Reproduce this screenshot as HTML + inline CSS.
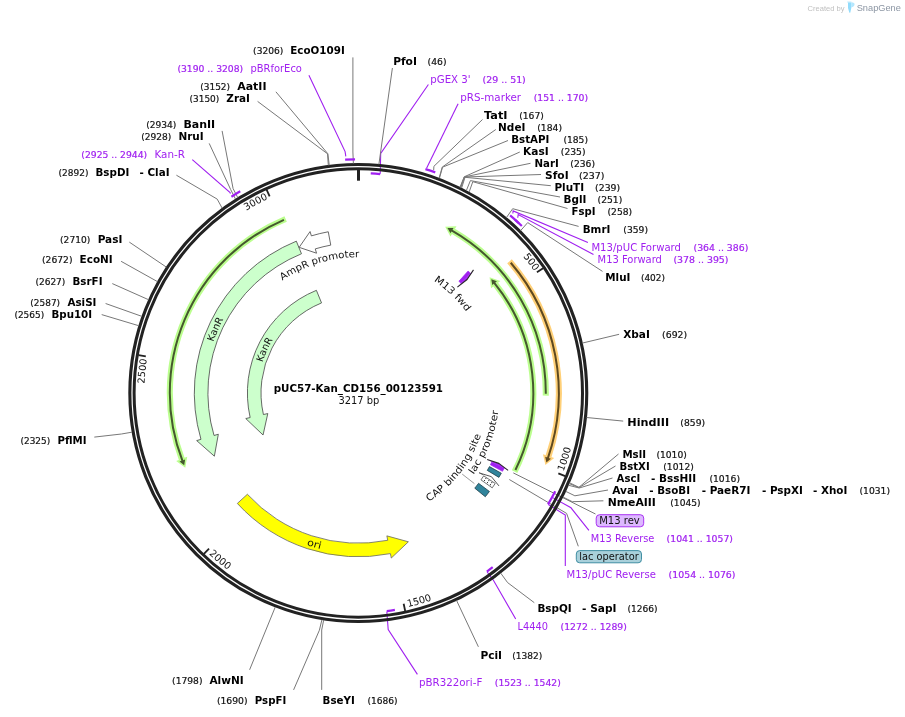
<!DOCTYPE html>
<html lang="en">
<head>
<meta charset="utf-8">
<title>pUC57-Kan_CD156_00123591 plasmid map</title>
<style>
html,body{margin:0;padding:0;background:#ffffff;}
body{width:905px;height:717px;overflow:hidden;}
svg{display:block;}
text{font-family:'DejaVu Sans', Verdana, 'Liberation Sans', sans-serif;white-space:pre;}
.b{font-weight:bold;fill:#000000;}
.r{font-weight:normal;fill:#111111;}
.p{font-weight:normal;fill:#a020f0;}
.ft{font-weight:normal;fill:#111111;}
.d{font-weight:normal;}
.n{stroke:#111111;stroke-width:0.2px;}
.q{stroke:#a020f0;stroke-width:0.2px;}
.cr{font-family:'Liberation Sans',Arial,Helvetica,sans-serif;}
.i{font-family:'DejaVu Sans Mono','Liberation Mono',monospace;}
</style>
</head>
<body>
<svg width="905" height="717" viewBox="0 0 905 717">
<rect width="905" height="717" fill="#ffffff"/>
<defs>
<path id="tp1" d="M491.02,225.13A214,214 0 0 1 534.26,271.21"/>
<path id="tp2" d="M563.55,471.65A219.8,219.8 0 0 0 577.89,402.6"/>
<path id="tp3" d="M408.04,607.1A219.8,219.8 0 0 0 473.29,580.32"/>
<path id="tp4" d="M208.75,554.08A219.8,219.8 0 0 0 267.47,593.16"/>
<path id="tp5" d="M147.25,428.39A214,214 0 0 1 147.01,359.08"/>
<path id="tp6" d="M210.81,237.94A214,214 0 0 1 268.11,198.93"/>
<path id="tp7" d="M208.75,357.54A153.7,153.7 0 0 1 231.87,305.59"/>
<path id="tp8" d="M259.78,372.63A100.6,100.6 0 0 1 278.94,331.18"/>
<path id="tp9" d="M291.05,538.62A160.4,160.4 0 0 0 337.06,551.99"/>
<path id="tp10" d="M271.02,288.96A135.8,135.8 0 0 1 373.42,258.04"/>
<path id="tp11" d="M421.7,273.59A135.2,135.2 0 0 1 474.23,323.44"/>
<path id="tp12" d="M464.38,486.19A141.2,141.2 0 0 0 499.46,396.21"/>
<path id="tp13" d="M417.12,508.48A129.6,129.6 0 0 0 484.58,422.13"/>
</defs>
<polyline points="428.4,84.5 380.7,153.4 380.21,173.79" fill="none" stroke="#a020f0" stroke-width="1.1"/>
<polyline points="588.9,530.3 571,507.8 552.3,497.39" fill="none" stroke="#a020f0" stroke-width="1.1"/>
<polyline points="565.3,566 565.3,515 548.29,504.51" fill="none" stroke="#a020f0" stroke-width="1.1"/>
<polyline points="515.7,619 493.4,580.2 487.02,571.78" fill="none" stroke="#a020f0" stroke-width="1.1"/>
<polyline points="417.4,674.4 388.2,629.6 386.83,611.44" fill="none" stroke="#a020f0" stroke-width="1.1"/>
<polyline points="513.3,472.9 595.5,514" fill="none" stroke="#787878" stroke-width="1"/>
<polyline points="509.3,479.5 566.6,513.4 578.3,546.3" fill="none" stroke="#787878" stroke-width="1"/>
<circle cx="358.3" cy="393" r="228.45" fill="none" stroke="#222222" stroke-width="3.1"/>
<circle cx="358.3" cy="393" r="224.2" fill="none" stroke="#222222" stroke-width="3"/>
<path d="M545.78,395.62A187.5,187.5 0 0 0 453.04,231.2" fill="none" stroke="#bbfe8e" stroke-width="6.1"/>
<polygon points="456.47,226.37 445.17,226.84 450.48,236.53" fill="#bbfe8e"/>
<path d="M545.8,393.72A187.5,187.5 0 0 0 451.57,230.34" fill="none" stroke="#45582e" stroke-width="2.0"/>
<polygon points="453.5,227.99 447.46,228.06 450.5,233.19" fill="#45582e"/>
<path d="M514.59,471.74A175,175 0 0 0 495.35,284.17" fill="none" stroke="#bbfe8e" stroke-width="6.1"/>
<polygon points="500.29,280.91 489.57,277.27 491.02,288.22" fill="#bbfe8e"/>
<path d="M515.43,470.04A175,175 0 0 0 494.28,282.85" fill="none" stroke="#45582e" stroke-width="2.0"/>
<polygon points="496.93,281.35 491.27,279.23 492.26,285.12" fill="#45582e"/>
<path d="M509.5,261.33A200.5,200.5 0 0 1 548.45,456.58" fill="none" stroke="#ffd078" stroke-width="6.1"/>
<polygon points="554.21,457.96 545.41,465.05 543.01,454.25" fill="#ffd078"/>
<path d="M510.75,262.77A200.5,200.5 0 0 1 547.91,458.19" fill="none" stroke="#5e4920" stroke-width="2.0"/>
<polygon points="550.91,458.69 546.33,462.62 545.23,456.75" fill="#5e4920"/>
<path d="M285.65,219.06A188.5,188.5 0 0 0 181.87,459.37" fill="none" stroke="#bbfe8e" stroke-width="6.1"/>
<polygon points="176.17,460.96 185.24,467.71 187.22,456.84" fill="#bbfe8e"/>
<path d="M283.9,219.8A188.5,188.5 0 0 0 182.48,460.95" fill="none" stroke="#45582e" stroke-width="2.0"/>
<polygon points="179.49,461.56 184.22,465.32 185.1,459.41" fill="#45582e"/>
<path d="M301.47,253.75L296.33,241.16A164,164 0 0 0 200.98,439.33L196.66,440.6L214.36,456.19L218.34,434.22L214.03,435.49A150.4,150.4 0 0 1 301.47,253.75Z" fill="#ccffcc" stroke="#444444" stroke-width="0.8" stroke-linejoin="miter"/>
<path d="M321.54,302.91L316.4,290.32A110.9,110.9 0 0 0 250.15,417.55L245.76,418.55L263.05,435.01L267.8,413.55L263.42,414.54A97.3,97.3 0 0 1 321.54,302.91Z" fill="#ccffcc" stroke="#444444" stroke-width="0.8" stroke-linejoin="miter"/>
<path d="M330.76,245.14L328.27,231.77A164,164 0 0 0 311.36,235.86L310.07,231.55L299.16,247.35L316.54,253.2L315.25,248.89A150.4,150.4 0 0 1 330.76,245.14Z" fill="#ffffff" stroke="#444444" stroke-width="0.8" stroke-linejoin="miter"/>
<path d="M247.38,494.28L237.34,503.45A163.8,163.8 0 0 0 390.4,553.62L391.28,558.04L408.38,541.8L386.85,535.87L387.73,540.29A150.2,150.2 0 0 1 247.38,494.28Z" fill="#ffff00" stroke="#666666" stroke-width="0.8" stroke-linejoin="miter"/>
<polygon points="457.37,287.13 467.1,279.54 473.5,269.89" fill="#a020f0"/>
<polygon points="461,283.26 458.87,281.31 468.1,271.05 470.43,273.18" fill="#a020f0" stroke="#a020f0" stroke-width="0.7" stroke-linejoin="round"/>
<polyline points="457.37,287.13 467.1,279.54 473.5,269.89" fill="none" stroke="#2a2a2a" stroke-width="1.1" stroke-linejoin="round"/>
<polygon points="487.15,459.5 498.86,463.39 508.12,470.33" fill="#a020f0"/>
<polygon points="491.86,461.94 490.39,464.72 502.51,471.3 504.12,468.26" fill="#a020f0" stroke="#a020f0" stroke-width="0.7" stroke-linejoin="round"/>
<polyline points="487.15,459.5 498.86,463.39 508.12,470.33" fill="none" stroke="#2a2a2a" stroke-width="1.1" stroke-linejoin="round"/>
<polygon points="489.47,466.58 501.33,473.24 498.92,477.39 487.26,470.39" fill="#31849b" stroke="#16323c" stroke-width="0.7"/>
<polygon points="479.28,472.93 491.39,476.65 498.97,485.93" fill="#ffffff"/>
<polygon points="483.71,475.85 480.97,479.85 492.23,487.83 495.22,483.45" fill="#ffffff" stroke="#333333" stroke-width="0.7" stroke-linejoin="round"/>
<circle cx="484.51" cy="480.54" r="0.55" fill="#111"/>
<circle cx="485.85" cy="478.57" r="0.55" fill="#111"/>
<circle cx="487.47" cy="482.59" r="0.55" fill="#111"/>
<circle cx="488.84" cy="480.58" r="0.55" fill="#111"/>
<circle cx="490.43" cy="484.64" r="0.55" fill="#111"/>
<circle cx="491.83" cy="482.59" r="0.55" fill="#111"/>
<polyline points="479.28,472.93 491.39,476.65 498.97,485.93" fill="none" stroke="#2a2a2a" stroke-width="0.8" stroke-linejoin="round"/>
<polygon points="478.57,483.3 489.45,491.47 485.3,496.77 474.77,488.16" fill="#31849b" stroke="#16323c" stroke-width="0.7"/>
<line x1="543.07" y1="268.15" x2="536.94" y2="272.29" stroke="#222222" stroke-width="1.8"/>
<line x1="565.2" y1="476.2" x2="558.33" y2="473.44" stroke="#222222" stroke-width="1.8"/>
<line x1="405.2" y1="611.01" x2="403.65" y2="603.78" stroke="#222222" stroke-width="1.8"/>
<line x1="203.92" y1="553.92" x2="209.04" y2="548.58" stroke="#222222" stroke-width="1.8"/>
<line x1="138.53" y1="355.18" x2="145.82" y2="356.44" stroke="#222222" stroke-width="1.8"/>
<line x1="266.59" y1="189.73" x2="269.63" y2="196.48" stroke="#222222" stroke-width="1.8"/>
<line x1="358.49" y1="170" x2="358.49" y2="180.7" stroke="#222222" stroke-width="3"/>
<text class="ft" font-size="9.75" text-anchor="end"><textPath href="#tp1" startOffset="100%" textLength="18.6" lengthAdjust="spacingAndGlyphs">500</textPath></text>
<text class="ft" font-size="9.75" text-anchor="start"><textPath href="#tp2" startOffset="0%" textLength="24.8" lengthAdjust="spacingAndGlyphs">1000</textPath></text>
<text class="ft" font-size="9.75" text-anchor="start"><textPath href="#tp3" startOffset="0%" textLength="24.8" lengthAdjust="spacingAndGlyphs">1500</textPath></text>
<text class="ft" font-size="9.75" text-anchor="start"><textPath href="#tp4" startOffset="0%" textLength="24.8" lengthAdjust="spacingAndGlyphs">2000</textPath></text>
<text class="ft" font-size="9.75" text-anchor="end"><textPath href="#tp5" startOffset="100%" textLength="24.8" lengthAdjust="spacingAndGlyphs">2500</textPath></text>
<text class="ft" font-size="9.75" text-anchor="end"><textPath href="#tp6" startOffset="100%" textLength="24.8" lengthAdjust="spacingAndGlyphs">3000</textPath></text>
<text class="ft" font-size="9.75" text-anchor="middle"><textPath href="#tp7" startOffset="50%" textLength="25" lengthAdjust="spacingAndGlyphs">KanR</textPath></text>
<text class="ft" font-size="9.75" text-anchor="middle"><textPath href="#tp8" startOffset="50%" textLength="25" lengthAdjust="spacingAndGlyphs">KanR</textPath></text>
<text class="ft" font-size="9.75" text-anchor="middle"><textPath href="#tp9" startOffset="50%" textLength="14.5" lengthAdjust="spacingAndGlyphs">ori</textPath></text>
<text class="ft" font-size="9.75" text-anchor="middle"><textPath href="#tp10" startOffset="50%" textLength="81.5" lengthAdjust="spacingAndGlyphs">AmpR promoter</textPath></text>
<text class="ft" font-size="9.75" text-anchor="middle"><textPath href="#tp11" startOffset="50%" textLength="45" lengthAdjust="spacingAndGlyphs">M13 fwd</textPath></text>
<text class="ft" font-size="9.75" text-anchor="middle"><textPath href="#tp12" startOffset="50%" textLength="69" lengthAdjust="spacingAndGlyphs">lac promoter</textPath></text>
<text class="ft" font-size="9.75" text-anchor="middle"><textPath href="#tp13" startOffset="50%" textLength="86" lengthAdjust="spacingAndGlyphs">CAP binding site</textPath></text>
<polyline points="479,472.6 483.2,474.9" fill="none" stroke="#555555" stroke-width="0.8"/>
<polyline points="462.2,474.1 474.4,483.6" fill="none" stroke="#808080" stroke-width="0.8"/>
<text class="b" font-size="11" x="273.7" y="392.2" textLength="169.3" lengthAdjust="spacingAndGlyphs">pUC57-Kan_CD156_00123591</text>
<text class="r" font-size="9.75" x="338.5" y="403.6" textLength="40.8" lengthAdjust="spacingAndGlyphs">3217 bp</text>
<text class="r n" font-size="9" x="253.1" y="53.9" textLength="30.3" lengthAdjust="spacingAndGlyphs">(3206)</text>
<text class="b" font-size="10.05" x="290.3" y="53.9" textLength="54.5" lengthAdjust="spacingAndGlyphs">EcoO109I</text>
<polyline points="352.9,57.4 352.9,152 353.37,163.45" fill="none" stroke="#787878" stroke-width="1"/>
<text class="p q" font-size="9" x="177.4" y="71.8" textLength="65.8" lengthAdjust="spacingAndGlyphs">(3190 .. 3208)</text>
<text class="p" font-size="10.05" x="250.5" y="71.8" textLength="51.4" lengthAdjust="spacingAndGlyphs">pBRforEco</text>
<polyline points="308.9,75.3 345.1,151.6 345.81,156.43" fill="none" stroke="#a020f0" stroke-width="1.1"/>
<text class="r n" font-size="9" x="200.2" y="89.7" textLength="29.9" lengthAdjust="spacingAndGlyphs">(3152)</text>
<text class="b" font-size="10.05" x="237.2" y="89.7" textLength="29.3" lengthAdjust="spacingAndGlyphs">AatII</text>
<polyline points="275.9,91.8 327.9,153.8 329.23,165.25" fill="none" stroke="#787878" stroke-width="1"/>
<text class="r n" font-size="9" x="189.5" y="101.7" textLength="29.8" lengthAdjust="spacingAndGlyphs">(3150)</text>
<text class="b" font-size="10.05" x="226.3" y="101.7" textLength="23.7" lengthAdjust="spacingAndGlyphs">ZraI</text>
<polyline points="257.6,101.4 327.5,153.8 328.34,165.36" fill="none" stroke="#787878" stroke-width="1"/>
<text class="r n" font-size="9" x="146.2" y="127.9" textLength="30.2" lengthAdjust="spacingAndGlyphs">(2934)</text>
<text class="b" font-size="10.05" x="183.4" y="127.9" textLength="31.8" lengthAdjust="spacingAndGlyphs">BanII</text>
<polyline points="222.1,130.9 233.1,188.6 237.76,197.59" fill="none" stroke="#787878" stroke-width="1"/>
<text class="r n" font-size="9" x="141.2" y="139.8" textLength="30.2" lengthAdjust="spacingAndGlyphs">(2928)</text>
<text class="b" font-size="10.05" x="178.4" y="139.8" textLength="25.3" lengthAdjust="spacingAndGlyphs">NruI</text>
<polyline points="209.2,143.4 230.7,189.6 235.47,199.02" fill="none" stroke="#787878" stroke-width="1"/>
<text class="p q" font-size="9" x="81.3" y="157.7" textLength="65.9" lengthAdjust="spacingAndGlyphs">(2925 .. 2944)</text>
<text class="p" font-size="10.05" x="154.5" y="157.7" textLength="30.5" lengthAdjust="spacingAndGlyphs">Kan-R</text>
<polyline points="192.3,159.7 230.1,192.5 230.4,193.59" fill="none" stroke="#a020f0" stroke-width="1.1"/>
<text class="r n" font-size="9" x="58.6" y="175.6" textLength="29.9" lengthAdjust="spacingAndGlyphs">(2892)</text>
<text class="b" font-size="10.05" x="95.5" y="175.6" textLength="33.8" lengthAdjust="spacingAndGlyphs">BspDI</text>
<text class="b" font-size="10.05" x="139.6" y="175.6" textLength="29.9" lengthAdjust="spacingAndGlyphs">- ClaI</text>
<polyline points="176.4,175.2 217.2,199.1 222.15,208.12" fill="none" stroke="#787878" stroke-width="1"/>
<text class="r n" font-size="9" x="60.1" y="242.8" textLength="30.1" lengthAdjust="spacingAndGlyphs">(2710)</text>
<text class="b" font-size="10.05" x="97.7" y="242.8" textLength="24.7" lengthAdjust="spacingAndGlyphs">PasI</text>
<polyline points="129.3,242.1 166.32,267.07" fill="none" stroke="#787878" stroke-width="1"/>
<text class="r n" font-size="9" x="42" y="263.1" textLength="30.5" lengthAdjust="spacingAndGlyphs">(2672)</text>
<text class="b" font-size="10.05" x="79.6" y="263.1" textLength="33.1" lengthAdjust="spacingAndGlyphs">EcoNI</text>
<polyline points="121.1,261.3 157.51,281.65" fill="none" stroke="#787878" stroke-width="1"/>
<text class="r n" font-size="9" x="35.4" y="284.8" textLength="30" lengthAdjust="spacingAndGlyphs">(2627)</text>
<text class="b" font-size="10.05" x="72.5" y="284.8" textLength="30" lengthAdjust="spacingAndGlyphs">BsrFI</text>
<polyline points="112.3,283.6 148.51,299.7" fill="none" stroke="#787878" stroke-width="1"/>
<text class="r n" font-size="9" x="30.3" y="305.7" textLength="29.8" lengthAdjust="spacingAndGlyphs">(2587)</text>
<text class="b" font-size="10.05" x="67.4" y="305.7" textLength="29.1" lengthAdjust="spacingAndGlyphs">AsiSI</text>
<polyline points="105.6,303.5 141.87,316.36" fill="none" stroke="#787878" stroke-width="1"/>
<text class="r n" font-size="9" x="14.4" y="317.9" textLength="29.8" lengthAdjust="spacingAndGlyphs">(2565)</text>
<text class="b" font-size="10.05" x="51.5" y="317.9" textLength="40.6" lengthAdjust="spacingAndGlyphs">Bpu10I</text>
<polyline points="101.7,314.6 138.78,325.73" fill="none" stroke="#787878" stroke-width="1"/>
<text class="r n" font-size="9" x="20.5" y="443.7" textLength="29.7" lengthAdjust="spacingAndGlyphs">(2325)</text>
<text class="b" font-size="10.05" x="57.5" y="443.7" textLength="29" lengthAdjust="spacingAndGlyphs">PflMI</text>
<polyline points="94.3,437.1 121.4,434 132.06,432.16" fill="none" stroke="#787878" stroke-width="1"/>
<text class="r n" font-size="9" x="172.1" y="683.9" textLength="30.4" lengthAdjust="spacingAndGlyphs">(1798)</text>
<text class="b" font-size="10.05" x="209.4" y="683.9" textLength="34.3" lengthAdjust="spacingAndGlyphs">AlwNI</text>
<polyline points="249.6,669.8 275.25,607.05" fill="none" stroke="#787878" stroke-width="1"/>
<text class="r n" font-size="9" x="216.9" y="704" textLength="30.7" lengthAdjust="spacingAndGlyphs">(1690)</text>
<text class="b" font-size="10.05" x="254.8" y="704" textLength="31.4" lengthAdjust="spacingAndGlyphs">PspFI</text>
<polyline points="293.6,689.9 319.4,630.2 321.91,619.7" fill="none" stroke="#787878" stroke-width="1"/>
<text class="b" font-size="10.05" x="322.6" y="704" textLength="32.3" lengthAdjust="spacingAndGlyphs">BseYI</text>
<text class="r n" font-size="9" x="367.4" y="704" textLength="30.2" lengthAdjust="spacingAndGlyphs">(1686)</text>
<polyline points="321.7,689.9 321.7,630 323.68,619.97" fill="none" stroke="#787878" stroke-width="1"/>
<text class="b" font-size="10.05" x="393.2" y="64.6" textLength="23.7" lengthAdjust="spacingAndGlyphs">PfoI</text>
<text class="r n" font-size="9" x="427.6" y="64.6" textLength="18.9" lengthAdjust="spacingAndGlyphs">(46)</text>
<polyline points="392.4,68 378.9,164.33" fill="none" stroke="#787878" stroke-width="1"/>
<text class="p" font-size="10.05" x="430.3" y="83.2" textLength="40.3" lengthAdjust="spacingAndGlyphs">pGEX 3'</text>
<text class="p q" font-size="9" x="482.5" y="83.2" textLength="43.3" lengthAdjust="spacingAndGlyphs">(29 .. 51)</text>
<text class="p" font-size="10.05" x="460.3" y="101" textLength="60.8" lengthAdjust="spacingAndGlyphs">pRS-marker</text>
<text class="p q" font-size="9" x="533.7" y="101" textLength="54.4" lengthAdjust="spacingAndGlyphs">(151 .. 170)</text>
<polyline points="458.1,103.8 426.58,168.24" fill="none" stroke="#a020f0" stroke-width="1.1"/>
<text class="b" font-size="10.05" x="484.1" y="119" textLength="23.5" lengthAdjust="spacingAndGlyphs">TatI</text>
<text class="r n" font-size="9" x="519.2" y="119" textLength="24.6" lengthAdjust="spacingAndGlyphs">(167)</text>
<polyline points="482.5,119.5 433.9,166.3 433.66,170.2" fill="none" stroke="#787878" stroke-width="1"/>
<text class="b" font-size="10.05" x="498.1" y="131" textLength="27.3" lengthAdjust="spacingAndGlyphs">NdeI</text>
<text class="r n" font-size="9" x="537.2" y="131" textLength="24.8" lengthAdjust="spacingAndGlyphs">(184)</text>
<polyline points="495.8,129.5 442.3,167 439.05,178.07" fill="none" stroke="#787878" stroke-width="1"/>
<text class="b" font-size="10.05" x="511.2" y="142.8" textLength="38.2" lengthAdjust="spacingAndGlyphs">BstAPI</text>
<text class="r n" font-size="9" x="563.4" y="142.8" textLength="24.6" lengthAdjust="spacingAndGlyphs">(185)</text>
<polyline points="508,140.5 442.5,167.2 439.47,178.23" fill="none" stroke="#787878" stroke-width="1"/>
<text class="b" font-size="10.05" x="523.1" y="154.8" textLength="25.6" lengthAdjust="spacingAndGlyphs">KasI</text>
<text class="r n" font-size="9" x="560.8" y="154.8" textLength="24.7" lengthAdjust="spacingAndGlyphs">(235)</text>
<polyline points="519.8,152 464.2,176.8 460.02,187.16" fill="none" stroke="#787878" stroke-width="1"/>
<text class="b" font-size="10.05" x="534.5" y="166.7" textLength="24.3" lengthAdjust="spacingAndGlyphs">NarI</text>
<text class="r n" font-size="9" x="570.3" y="166.7" textLength="24.7" lengthAdjust="spacingAndGlyphs">(236)</text>
<polyline points="530.5,163.3 464.4,176.9 460.42,187.36" fill="none" stroke="#787878" stroke-width="1"/>
<text class="b" font-size="10.05" x="545" y="178.7" textLength="23.6" lengthAdjust="spacingAndGlyphs">SfoI</text>
<text class="r n" font-size="9" x="579" y="178.7" textLength="25.4" lengthAdjust="spacingAndGlyphs">(237)</text>
<polyline points="541,174.5 464.6,177 460.82,187.56" fill="none" stroke="#787878" stroke-width="1"/>
<text class="b" font-size="10.05" x="554.4" y="190.7" textLength="29.7" lengthAdjust="spacingAndGlyphs">PluTI</text>
<text class="r n" font-size="9" x="595.1" y="190.7" textLength="25.1" lengthAdjust="spacingAndGlyphs">(239)</text>
<polyline points="550.8,185.7 465,177.3 461.63,187.96" fill="none" stroke="#787878" stroke-width="1"/>
<text class="b" font-size="10.05" x="563.6" y="202.8" textLength="22.9" lengthAdjust="spacingAndGlyphs">BglI</text>
<text class="r n" font-size="9" x="597.6" y="202.8" textLength="24.7" lengthAdjust="spacingAndGlyphs">(251)</text>
<polyline points="560,197 470.4,180.6 466.4,190.44" fill="none" stroke="#787878" stroke-width="1"/>
<text class="b" font-size="10.05" x="571.6" y="214.9" textLength="23.9" lengthAdjust="spacingAndGlyphs">FspI</text>
<text class="r n" font-size="9" x="607.5" y="214.9" textLength="24.7" lengthAdjust="spacingAndGlyphs">(258)</text>
<polyline points="567.5,208.5 472.8,181.7 469.16,191.94" fill="none" stroke="#787878" stroke-width="1"/>
<text class="b" font-size="10.05" x="582.7" y="232.5" textLength="27.7" lengthAdjust="spacingAndGlyphs">BmrI</text>
<text class="r n" font-size="9" x="623.3" y="232.5" textLength="24.7" lengthAdjust="spacingAndGlyphs">(359)</text>
<polyline points="578.6,226.4 512.7,208.7 506.42,217.57" fill="none" stroke="#787878" stroke-width="1"/>
<text class="p" font-size="10.05" x="591.4" y="251.1" textLength="89.6" lengthAdjust="spacingAndGlyphs">M13/pUC Forward</text>
<text class="p q" font-size="9" x="693.5" y="251.1" textLength="54.8" lengthAdjust="spacingAndGlyphs">(364 .. 386)</text>
<polyline points="587.9,242.4 513.1,210.9 512.89,213.49" fill="none" stroke="#a020f0" stroke-width="1.1"/>
<text class="p" font-size="10.05" x="597.6" y="262.8" textLength="64.3" lengthAdjust="spacingAndGlyphs">M13 Forward</text>
<text class="p q" font-size="9" x="673.4" y="262.8" textLength="55.1" lengthAdjust="spacingAndGlyphs">(378 .. 395)</text>
<polyline points="593.5,254.6 518.2,214.6 517.74,217.78" fill="none" stroke="#a020f0" stroke-width="1.1"/>
<text class="b" font-size="10.05" x="605.3" y="280.8" textLength="25.1" lengthAdjust="spacingAndGlyphs">MluI</text>
<text class="r n" font-size="9" x="640.9" y="280.8" textLength="24.1" lengthAdjust="spacingAndGlyphs">(402)</text>
<polyline points="602.5,271.4 527.7,222.6 520.61,230.61" fill="none" stroke="#787878" stroke-width="1"/>
<text class="b" font-size="10.05" x="623.2" y="338" textLength="26.7" lengthAdjust="spacingAndGlyphs">XbaI</text>
<text class="r n" font-size="9" x="662.1" y="338" textLength="25" lengthAdjust="spacingAndGlyphs">(692)</text>
<polyline points="619.1,334.3 582.4,343.07" fill="none" stroke="#787878" stroke-width="1"/>
<text class="b" font-size="10.05" x="627.3" y="426" textLength="41.8" lengthAdjust="spacingAndGlyphs">HindIII</text>
<text class="r n" font-size="9" x="680.3" y="426" textLength="24.8" lengthAdjust="spacingAndGlyphs">(859)</text>
<polyline points="623.2,421.1 586.59,417.51" fill="none" stroke="#787878" stroke-width="1"/>
<text class="b" font-size="10.05" x="622.4" y="457.7" textLength="23.6" lengthAdjust="spacingAndGlyphs">MslI</text>
<text class="r n" font-size="9" x="656.4" y="457.7" textLength="30.4" lengthAdjust="spacingAndGlyphs">(1010)</text>
<polyline points="618.5,454 578.9,487.3 569.61,482.8" fill="none" stroke="#787878" stroke-width="1"/>
<text class="b" font-size="10.05" x="619.5" y="469.8" textLength="30.2" lengthAdjust="spacingAndGlyphs">BstXI</text>
<text class="r n" font-size="9" x="663.3" y="469.8" textLength="30.5" lengthAdjust="spacingAndGlyphs">(1012)</text>
<polyline points="615.5,466 579,487.6 569.26,483.63" fill="none" stroke="#787878" stroke-width="1"/>
<text class="b" font-size="10.05" x="616.6" y="481.5" textLength="23.6" lengthAdjust="spacingAndGlyphs">AscI</text>
<text class="b" font-size="10.05" x="651.1" y="481.5" textLength="45" lengthAdjust="spacingAndGlyphs">- BssHII</text>
<text class="r n" font-size="9" x="709.4" y="481.5" textLength="30.6" lengthAdjust="spacingAndGlyphs">(1016)</text>
<polyline points="612.5,478 579.2,488 568.54,485.27" fill="none" stroke="#787878" stroke-width="1"/>
<text class="b" font-size="10.05" x="612.2" y="493.7" textLength="25.8" lengthAdjust="spacingAndGlyphs">AvaI</text>
<text class="b" font-size="10.05" x="649.3" y="493.7" textLength="40.7" lengthAdjust="spacingAndGlyphs">- BsoBI</text>
<text class="b" font-size="10.05" x="701.7" y="493.7" textLength="48.7" lengthAdjust="spacingAndGlyphs">- PaeR7I</text>
<text class="b" font-size="10.05" x="762" y="493.7" textLength="40.9" lengthAdjust="spacingAndGlyphs">- PspXI</text>
<text class="b" font-size="10.05" x="813" y="493.7" textLength="34.4" lengthAdjust="spacingAndGlyphs">- XhoI</text>
<text class="r n" font-size="9" x="859.5" y="493.7" textLength="30.5" lengthAdjust="spacingAndGlyphs">(1031)</text>
<polyline points="608,490 574.9,495.8 565.75,491.39" fill="none" stroke="#787878" stroke-width="1"/>
<text class="b" font-size="10.05" x="607.8" y="505.6" textLength="48.1" lengthAdjust="spacingAndGlyphs">NmeAIII</text>
<text class="r n" font-size="9" x="670.3" y="505.6" textLength="30.3" lengthAdjust="spacingAndGlyphs">(1045)</text>
<polyline points="603.4,500.8 572.3,501.7 562.98,497.03" fill="none" stroke="#787878" stroke-width="1"/>
<rect x="596.2" y="514.7" width="47.5" height="12.1" rx="3.4" ry="3.4" fill="#ddb8ff" stroke="#a020f0" stroke-width="0.9"/>
<text class="r" font-size="10.05" x="599.2" y="524.2" textLength="40.6" lengthAdjust="spacingAndGlyphs">M13 rev</text>
<text class="p" font-size="10.05" x="590.8" y="541.7" textLength="63.6" lengthAdjust="spacingAndGlyphs">M13 Reverse</text>
<text class="p q" font-size="9" x="666.6" y="541.7" textLength="66.4" lengthAdjust="spacingAndGlyphs">(1041 .. 1057)</text>
<rect x="576.3" y="550.6" width="65.2" height="12.2" rx="3.4" ry="3.4" fill="#a9d0da" stroke="#31849b" stroke-width="0.9"/>
<text class="r" font-size="10.05" x="579.3" y="560.2" textLength="59.4" lengthAdjust="spacingAndGlyphs">lac operator</text>
<text class="p" font-size="10.05" x="566.5" y="577.7" textLength="89.4" lengthAdjust="spacingAndGlyphs">M13/pUC Reverse</text>
<text class="p q" font-size="9" x="668.6" y="577.7" textLength="66.9" lengthAdjust="spacingAndGlyphs">(1054 .. 1076)</text>
<text class="b" font-size="10.05" x="537.4" y="611.8" textLength="34.3" lengthAdjust="spacingAndGlyphs">BspQI</text>
<text class="b" font-size="10.05" x="582.1" y="611.8" textLength="34.3" lengthAdjust="spacingAndGlyphs">- SapI</text>
<text class="r n" font-size="9" x="627.5" y="611.8" textLength="30.1" lengthAdjust="spacingAndGlyphs">(1266)</text>
<polyline points="534.3,602.7 507.6,582.6 500.69,573.12" fill="none" stroke="#787878" stroke-width="1"/>
<text class="p" font-size="10.05" x="517.5" y="630.4" textLength="30.5" lengthAdjust="spacingAndGlyphs">L4440</text>
<text class="p q" font-size="9" x="560.6" y="630.4" textLength="66.3" lengthAdjust="spacingAndGlyphs">(1272 .. 1289)</text>
<text class="b" font-size="10.05" x="480.4" y="658.8" textLength="21.6" lengthAdjust="spacingAndGlyphs">PciI</text>
<text class="r n" font-size="9" x="512.3" y="658.8" textLength="30.1" lengthAdjust="spacingAndGlyphs">(1382)</text>
<polyline points="478.4,646.8 456.59,600.5" fill="none" stroke="#787878" stroke-width="1"/>
<text class="p" font-size="10.05" x="419" y="686.2" textLength="63.3" lengthAdjust="spacingAndGlyphs">pBR322ori-F</text>
<text class="p q" font-size="9" x="494.8" y="686.2" textLength="66" lengthAdjust="spacingAndGlyphs">(1523 .. 1542)</text>
<text class="cr" x="807.6" y="10.5" font-size="7.7" fill="#c0c0c0" textLength="37" lengthAdjust="spacingAndGlyphs">Created by</text>
<rect x="847.2" y="1.4" width="4.2" height="1.3" fill="#cdeffd"/>
<path d="M848,2.6 L851.2,2.6 L851.2,8.6 L850.3,12.6 Q849.8,13 849.3,12.6 L848,8 Z" fill="#93dcfc"/>
<path d="M851.2,2.3 Q855,2.4 854.5,5 Q854,6.4 851.2,7.8 Z" fill="#b4e7fe"/>
<text class="cr" x="856.7" y="10.6" font-size="9.3" fill="#8b95a3" textLength="44.2" lengthAdjust="spacingAndGlyphs">SnapGene</text>
<path d="M345.13,159.67A233.7,233.7 0 0 1 355.04,159.32" fill="none" stroke="#a020f0" stroke-width="2.2"/>
<path d="M231.41,196.75A233.7,233.7 0 0 1 240.24,191.31" fill="none" stroke="#a020f0" stroke-width="2.2"/>
<path d="M370.75,173.35A220,220 0 0 1 380.18,174.09" fill="none" stroke="#a020f0" stroke-width="2.2"/>
<path d="M425.41,169.14A233.7,233.7 0 0 1 435.28,172.34" fill="none" stroke="#a020f0" stroke-width="2.2"/>
<path d="M510.15,215.36A233.7,233.7 0 0 1 518.88,223.21" fill="none" stroke="#a020f0" stroke-width="2.2"/>
<path d="M514.95,219.58A233.7,233.7 0 0 1 521.84,226.06" fill="none" stroke="#a020f0" stroke-width="2.2"/>
<path d="M555.2,491.14A220,220 0 0 1 548.03,504.36" fill="none" stroke="#a020f0" stroke-width="2.2"/>
<path d="M492.7,567.17A220,220 0 0 1 486.85,571.54" fill="none" stroke="#a020f0" stroke-width="2.2"/>
<path d="M394.87,609.94A220,220 0 0 1 386.79,611.15" fill="none" stroke="#a020f0" stroke-width="2.2"/>
</svg>
</body>
</html>
